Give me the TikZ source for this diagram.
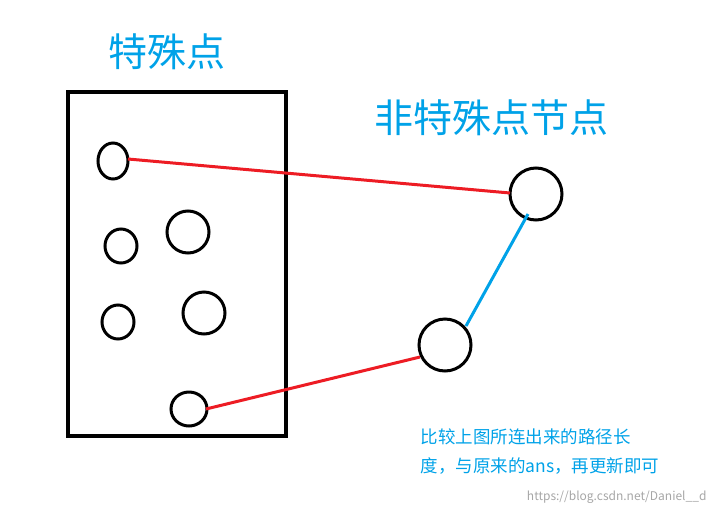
\documentclass[tikz,border=0pt]{standalone}
\usepackage{fontspec}
\newfontfamily\cjk{Noto Sans CJK SC}
\begin{document}
\begin{tikzpicture}[x=1pt,y=-1pt,
  blk/.style={draw=black,line width=3.5pt},
  redl/.style={draw={rgb,255:red,237;green,28;blue,36},line width=3pt},
  bluel/.style={draw={rgb,255:red,0;green,162;blue,232},line width=3pt}]
\definecolor{tb}{RGB}{0,162,232}
\useasboundingbox (0,0) rectangle (717,517);
\draw[blk] (68,92) rectangle (286,436);
\draw[line width=3pt] (113,161) ellipse (15 and 18);
\draw[line width=3pt] (121,246) ellipse (16 and 17);
\draw[line width=3pt] (188,232) ellipse (21 and 21);
\draw[line width=3pt] (118,322) ellipse (16 and 17);
\draw[line width=3pt] (204,313) ellipse (21 and 21);
\draw[line width=3pt] (189,409) ellipse (18 and 17);
\draw[line width=3pt] (536,194) ellipse (26 and 26);
\draw[line width=3pt] (445,345) ellipse (26 and 26);
\coordinate (r1a) at (128,159); \coordinate (r1b) at (510,193);
\coordinate (r2a) at (206,409); \coordinate (r2b) at (420,357);
\coordinate (b1) at (528,214); \coordinate (b2) at (466,326);
\draw[redl] (r1a) -- (r1b);
\draw[redl] (r2a) -- (r2b);
\draw[bluel] (b1) -- (b2);
\node[text=tb,font=\cjk\fontsize{39}{44}\selectfont] (t1) at (167,52) {特殊点};
\node[text=tb,font=\cjk\fontsize{39}{44}\selectfont] (t2) at (491,118) {非特殊点节点};
\node[text=tb,font=\cjk\fontsize{17.5}{20}\selectfont,anchor=west] (t3) at (417,437) {比较上图所连出来的路径长};
\node[text=tb,font=\cjk\fontsize{17.5}{20}\selectfont,anchor=west] (t4) at (417,466) {度，与原来的ans，再更新即可};
\node[text=gray!70,font=\cjk\fontsize{12}{14}\selectfont,anchor=east] (w) at (710,497) {https://blog.csdn.net/Daniel\_\_d};
\end{tikzpicture}
\end{document}
